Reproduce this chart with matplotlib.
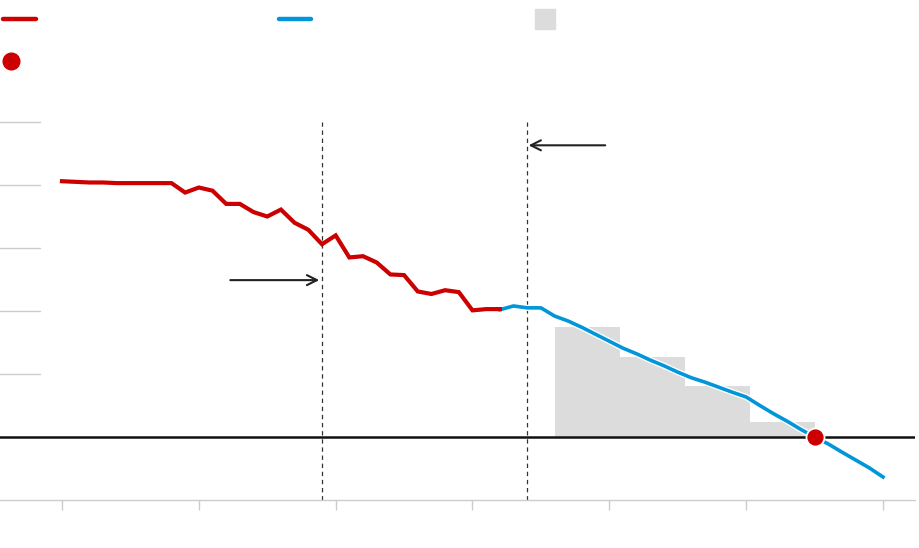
import numpy as np
import matplotlib
matplotlib.use('Agg')
import matplotlib.pyplot as plt
import matplotlib.patheffects as pe
from matplotlib.lines import Line2D
from matplotlib.patches import Rectangle

# historic series (red)
hist_years = list(range(1990, 2023))
hist_vals = [40.6, 40.5, 40.4, 40.4, 40.3, 40.3, 40.3, 40.3, 40.3, 38.8,
             39.6, 39.1, 37.0, 37.0, 35.7, 35.0, 36.1, 34.0, 32.9, 30.6,
             32.0, 28.5, 28.7, 27.7, 25.8, 25.7, 23.1, 22.7, 23.3, 23.0,
             20.1, 20.3, 20.3]

# projected series (blue)
proj_years = list(range(2022, 2051))
proj_vals = [20.2, 20.8, 20.5, 20.5, 19.2, 18.4, 17.4, 16.3, 15.2, 14.1,
             13.2, 12.2, 11.3, 10.3, 9.4, 8.7, 7.9, 7.1, 6.35, 5.0,
             3.7, 2.5, 1.2, 0.0, -1.1, -2.4, -3.65, -4.9, -6.35]

# grey budget blocks
block_edges = [2026, 2030.75, 2035.5, 2040.25, 2045]
block_vals = [17.5, 12.65, 8.15, 2.4]

# crossing point
cross_year, cross_val = 2045, 0.0

# marker lines
event_years = [2009, 2024]
grid_vals = [10, 20, 30, 40, 50]
tick_years = [1990, 2000, 2010, 2020, 2030, 2040, 2050]

RED = '#cc0000'
BLUE = '#0096d9'
GREY = '#dcdcdc'

fig = plt.figure(figsize=(9.2, 5.48), dpi=100)
ax = fig.add_axes([0, 48 / 548, 915 / 920, 378 / 548])
ax.set_xlim(1990 - 62 / 13.683, 1990 + 853 / 13.683)
ax.set_ylim(-10, 50)

# blocks
ax.bar(block_edges[:-1], block_vals, width=np.diff(block_edges), align='edge',
       color=GREY, linewidth=0, zorder=1)

# short gridlines at left
for v in grid_vals:
    ax.plot([0, 40 / 915], [v, v], color='#cccccc', lw=1,
            transform=ax.get_yaxis_transform(), clip_on=False, zorder=1)

# zero line
ax.axhline(0, color='#111111', lw=1.8, zorder=2)

# dashed event lines
for yr in event_years:
    ax.plot([yr, yr], [-10, 50], color='#333333', lw=0.9,
            linestyle=(0, (3.5, 3)), zorder=2)

halo = [pe.Stroke(linewidth=4.5, foreground='white'), pe.Normal()]
ax.plot(proj_years, proj_vals, color=BLUE, lw=2.6, zorder=4,
        path_effects=halo)
ax.plot(hist_years, hist_vals, color=RED, lw=3, solid_joinstyle='miter',
        zorder=4.5)
ax.plot([cross_year], [cross_val], 'o', color=RED, ms=13,
        markeredgecolor='white', markeredgewidth=1.3, zorder=5)

# arrows
ax.annotate('', xy=(2008.8, 24.9), xytext=(2002.3, 24.9),
            arrowprops=dict(arrowstyle='->', color='#222222', lw=1.5,
                            mutation_scale=18, shrinkA=0, shrinkB=0))
ax.annotate('', xy=(2024.1, 46.3), xytext=(2029.7, 46.3),
            arrowprops=dict(arrowstyle='->', color='#222222', lw=1.5,
                            mutation_scale=18, shrinkA=0, shrinkB=0))

# axes styling
for s in ['top', 'right', 'left']:
    ax.spines[s].set_visible(False)
ax.spines['bottom'].set_color('#cccccc')
ax.spines['bottom'].set_linewidth(1)
ax.set_xticks(tick_years)
ax.set_xticklabels([])
ax.set_yticks([])
ax.tick_params(axis='x', length=7.5, width=1, color='#cccccc', direction='out')

# legend keys (text-free)
fy = lambda p: (548 - p) / 548
fx = lambda p: p / 920
fig.add_artist(Line2D([fx(3), fx(36)], [fy(19), fy(19)], color=RED, lw=3.2,
                      solid_capstyle='round'))
fig.add_artist(Line2D([fx(279), fx(311)], [fy(19), fy(19)], color=BLUE, lw=3.2,
                      solid_capstyle='round'))
fig.add_artist(Rectangle((fx(535), fy(29)), fx(20), 20 / 548, color=GREY,
                         transform=fig.transFigure))
fig.add_artist(Line2D([fx(11)], [fy(61)], marker='o', ms=12, color=RED,
                      linestyle='none'))

fig.savefig('out.png', dpi=100, facecolor='white')
